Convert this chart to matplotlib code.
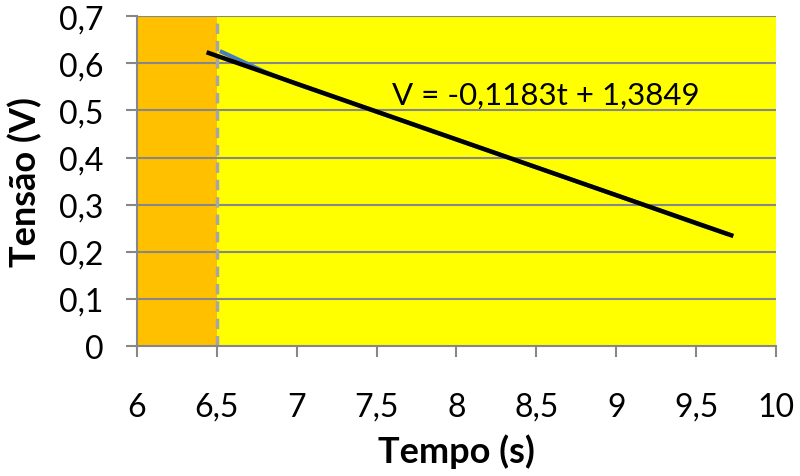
import matplotlib
matplotlib.use("Agg")
import matplotlib.pyplot as plt
from matplotlib.ticker import FuncFormatter

plt.rcParams['font.family'] = ['Lato', 'DejaVu Sans']

# Data
tempo = [6.52, 6.8, 7.0, 7.5, 8.0, 8.5, 9.0, 9.5, 9.7]
tensao = [0.626, 0.582, 0.556, 0.497, 0.438, 0.379, 0.320, 0.260, 0.237]
slope = -0.1183
intercept = 1.3849
trend_t = [6.45, 9.72]
region_split = 6.5
x_range = [6, 10]
y_range = [0, 0.7]
x_ticks = [6, 6.5, 7, 7.5, 8, 8.5, 9, 9.5, 10]
y_ticks = [0, 0.1, 0.2, 0.3, 0.4, 0.5, 0.6, 0.7]
equation = "V = -0,1183t + 1,3849"

fig = plt.figure(figsize=(8.0, 4.77), dpi=100)
ax = fig.add_axes([0.171, 0.2725, 0.799, 0.6915])

ax.axvspan(x_range[0], region_split, color='#FFC000', zorder=0, lw=0)
ax.axvspan(region_split, x_range[1], color='#FFFF00', zorder=0, lw=0)

for yv in y_ticks[1:]:
    ax.axhline(yv, color='#878787', lw=1.5, zorder=1)

ax.axvline(region_split, color='#A6A6A6', lw=2.5, ls=(0, (3, 2)), zorder=2)

ax.plot(tempo, tensao, color='#4A7EBB', lw=3, zorder=3, solid_capstyle='butt')
trend_v = [slope * t + intercept for t in trend_t]
ax.plot(trend_t, trend_v, color='black', lw=3.2, zorder=4)

ax.text(8.56, 0.534, equation, fontsize=22.5, ha='center', va='center', zorder=5)

ax.set_xlim(*x_range)
ax.set_ylim(*y_range)
ax.set_xticks(x_ticks)
ax.set_yticks(y_ticks)
fmt = FuncFormatter(lambda v, p: ('%g' % v).replace('.', ','))
ax.xaxis.set_major_formatter(fmt)
ax.yaxis.set_major_formatter(fmt)

for s in ['top', 'right']:
    ax.spines[s].set_visible(False)
for s in ['left', 'bottom']:
    ax.spines[s].set_color('#878787')
    ax.spines[s].set_linewidth(1.5)

ax.tick_params(axis='both', direction='out', length=8, width=1.5, color='#878787', labelsize=23)
ax.tick_params(axis='x', pad=25)
ax.tick_params(axis='y', pad=16)

ax.set_xlabel('Tempo (s)', fontsize=26, fontweight='bold', labelpad=8)
ax.set_ylabel('Tensão (V)', fontsize=26, fontweight='bold', labelpad=12)

fig.savefig('out.png', dpi=100, facecolor='white')
